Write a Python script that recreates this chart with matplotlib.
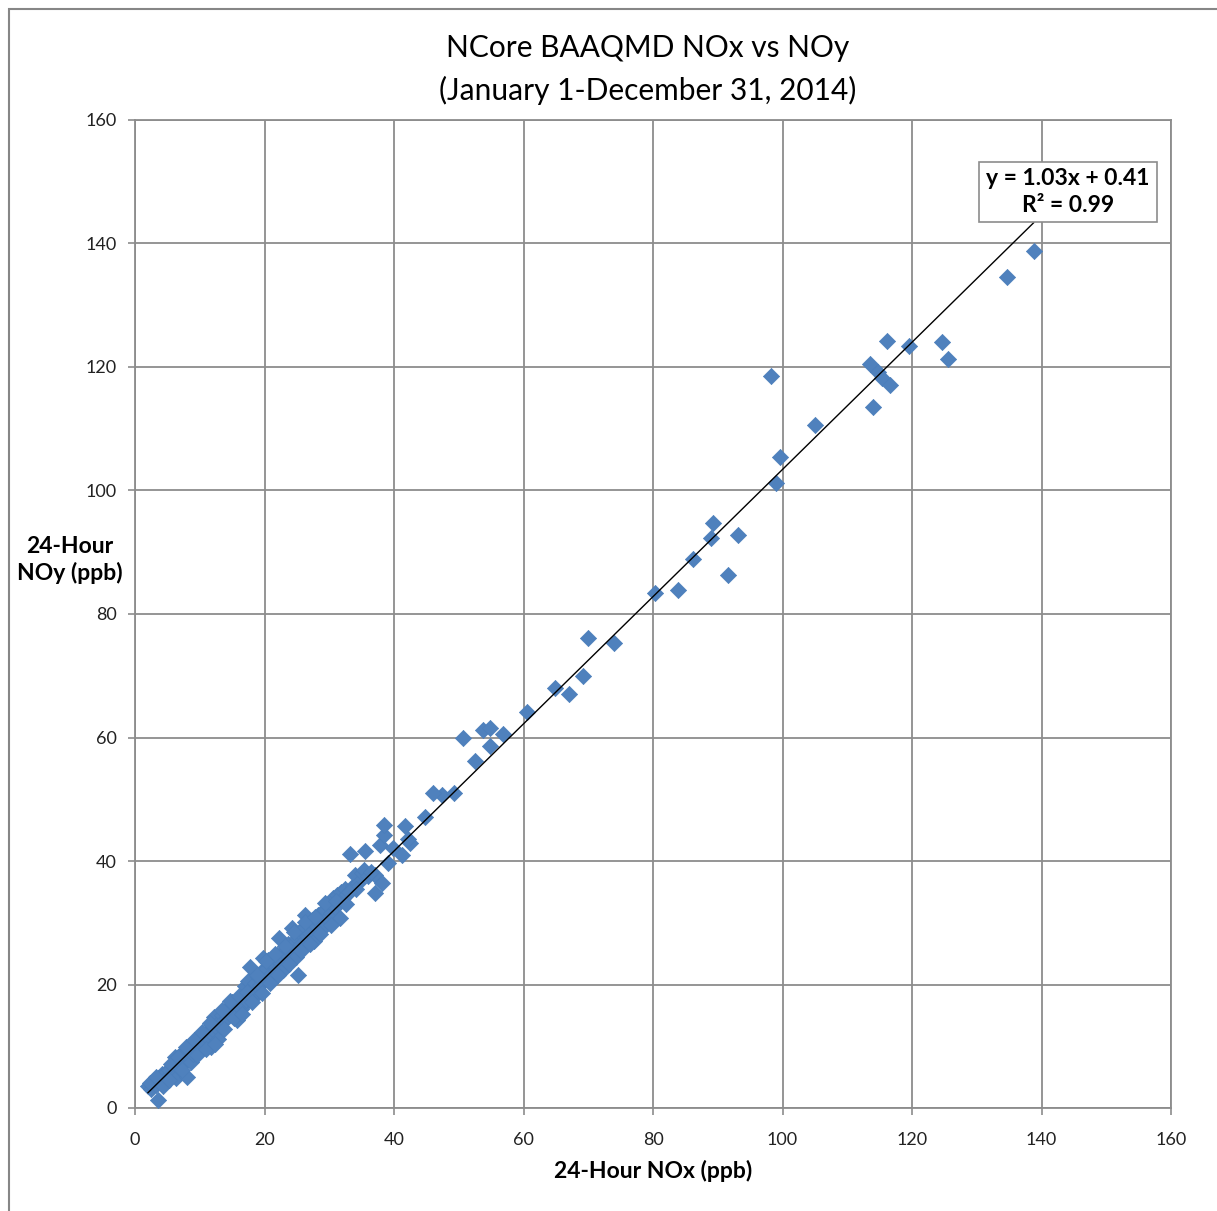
import matplotlib
matplotlib.use("Agg")
import matplotlib.pyplot as plt
from matplotlib.patches import Rectangle
import numpy as np

# 24-hour NOx (ppb)
nox = [
    2.0, 2.5, 2.8, 3.0, 3.3, 3.55, 3.6, 4.0, 4.2, 4.5, 4.8, 5.0, 5.2, 5.5, 5.8,
    6.0, 6.2, 6.4, 6.5, 6.8, 7.0, 7.2, 7.5, 7.7, 8.0, 8.1, 8.3, 8.5, 8.7, 8.9,
    9.0, 9.3, 9.5, 9.8, 10.0, 10.2, 10.5, 10.7, 11.0, 11.2, 11.5, 11.7, 11.9, 12.0,
    12.2, 12.4, 12.6, 12.8, 13.0, 13.2, 13.5, 13.7, 14.0, 14.2, 14.5, 14.7, 15.0,
    15.2, 15.5, 15.8, 16.0, 16.3, 16.5, 16.8, 17.0, 17.2, 17.4, 17.8, 17.8, 18.0,
    18.3, 18.5, 18.8, 19.0, 19.3, 19.5, 19.8, 20.0, 20.3, 20.6, 20.9, 21.2, 21.5,
    21.8, 22.0, 22.3, 22.5, 22.8, 22.9, 23.3, 23.6, 24.0, 24.2, 24.5, 24.8, 25.0,
    25.2, 25.4, 25.7, 26.0, 26.3, 26.5, 26.8, 27.0, 27.3, 27.6, 27.9, 28.2, 28.5,
    28.8, 29.0, 29.4, 29.7, 30.0, 30.3, 30.6, 30.9, 31.2, 31.5, 31.7, 31.8, 32.1,
    32.4, 32.8, 33.2, 33.2, 33.6, 34.0, 34.5, 35.0, 35.3, 35.5, 36.0, 37.1, 37.1,
    37.8, 38.1, 38.4, 38.4, 39.1, 39.9, 41.2, 41.7, 42.5, 42.2, 44.8,
    2.3, 3.2, 4.4, 5.3, 5.6, 6.7, 7.3, 7.9, 9.1, 9.6, 10.4, 10.9, 11.6, 12.3,
    13.4, 13.8, 14.6, 15.3, 16.1, 16.6, 17.3, 18.1, 18.9, 19.6, 20.2, 20.8, 21.6,
    22.1, 23.1, 23.8, 24.6, 25.6, 26.2, 27.1, 27.8, 28.6, 29.3, 30.2, 31.0, 32.6,
    34.2, 36.4, 33.0,
    47.4, 46.0, 49.2, 50.6, 52.5, 53.8, 54.8, 54.8, 56.9, 60.6, 64.8, 67.0, 69.2,
    69.9, 74.0, 80.3, 83.8, 86.2, 89.0, 89.3, 91.6, 93.1, 98.2, 99.0, 99.6,
    105.0, 113.5, 114.0, 114.8, 115.3, 116.1, 116.6, 119.5, 124.6, 125.6,
    134.7, 138.8,
]

# 24-hour NOy (ppb)
noy = [
    3.5, 3.0, 4.2, 4.5, 3.8, 1.3, 4.9, 4.2, 5.5, 4.8, 5.9, 5.0, 6.2, 5.4, 6.8,
    5.7, 8.2, 4.8, 7.2, 6.5, 8.0, 7.0, 9.3, 7.6, 5.1, 9.0, 8.1, 10.2, 7.5, 9.6,
    8.7, 10.8, 9.4, 10.1, 11.2, 10.0, 11.6, 10.6, 12.0, 11.3, 12.5, 9.8, 13.5, 11.8,
    14.8, 12.3, 13.0, 11.2, 14.0, 13.2, 15.0, 14.3, 15.8, 14.5, 16.4, 15.2, 17.2,
    15.8, 16.6, 14.3, 17.0, 16.0, 17.9, 16.6, 19.8, 17.5, 20.5, 22.8, 18.3, 19.4,
    17.8, 20.2, 19.0, 21.2, 20.0, 22.0, 24.3, 21.0, 22.5, 24.0, 21.5, 23.5, 24.5,
    22.2, 24.8, 27.6, 23.5, 25.3, 22.3, 25.0, 26.5, 25.2, 29.2, 26.8, 24.5, 27.5,
    21.5, 28.5, 26.5, 29.0, 31.3, 27.8, 29.6, 28.3, 30.5, 27.0, 29.5, 31.2, 30.0,
    31.6, 29.2, 32.0, 30.8, 33.0, 31.5, 34.0, 32.5, 34.5, 33.2, 30.7, 35.0, 34.0,
    35.4, 34.6, 35.2, 41.1, 36.0, 37.7, 36.5, 38.0, 38.5, 41.6, 37.5, 37.7, 34.8,
    42.6, 36.4, 44.2, 45.8, 39.6, 42.1, 41.0, 45.6, 42.9, 43.5, 47.2,
    4.0, 5.0, 3.6, 4.6, 7.2, 8.3, 6.2, 9.8, 11.0, 8.6, 12.3, 9.6, 13.8, 10.4,
    15.9, 12.8, 17.3, 14.6, 18.2, 15.3, 18.8, 17.1, 21.5, 18.6, 23.8, 20.2, 24.9,
    21.6, 26.2, 23.3, 28.5, 25.4, 30.2, 26.6, 31.0, 28.1, 33.2, 29.6, 33.5, 33.0,
    35.4, 38.2, 35.0,
    50.7, 51.0, 51.0, 60.0, 56.2, 61.2, 61.6, 58.7, 60.6, 64.1, 68.0, 67.0, 70.0,
    76.1, 75.3, 83.4, 83.9, 88.9, 92.3, 94.7, 86.3, 92.8, 118.5, 101.2, 105.4,
    110.6, 120.5, 113.5, 119.2, 118.2, 124.2, 117.1, 123.4, 124.0, 121.3,
    134.6, 138.8,
]

# Excel linear trendline shown on the chart
slope = 1.03
intercept = 0.41
r_squared = 0.99

x_ticks = [0, 20, 40, 60, 80, 100, 120, 140, 160]
y_ticks = [0, 20, 40, 60, 80, 100, 120, 140, 160]

plt.rcParams['font.family'] = ['Lato', 'DejaVu Sans']

W, H = 1217, 1211
fig = plt.figure(figsize=(W / 100, H / 100), dpi=100)
ax = fig.add_axes([135 / W, 1 - 1108 / H, (1171 - 135) / W, (1108 - 120) / H])

grid_col = '#8c8c8c'
ax.set_xlim(0, 160)
ax.set_ylim(0, 160)
ax.set_xticks(x_ticks)
ax.set_yticks(y_ticks)
ax.grid(True, color=grid_col, linewidth=1.3)
ax.set_axisbelow(True)
for sp in ax.spines.values():
    sp.set_color(grid_col)
    sp.set_linewidth(1.3)
ax.tick_params(direction='out', length=5, width=1.2, color=grid_col,
               labelsize=13, pad=8, labelcolor='#222222')
ax.tick_params(axis='x', pad=12)

ax.scatter(nox, noy, marker='D', s=68, color='#4F81BD', edgecolors='#4A7EBB',
           linewidths=0.5, zorder=3)

xl = np.array([min(nox), max(nox)])
ax.plot(xl, slope * xl + intercept, color='black', linewidth=1.0, zorder=4)

fig.text(648 / W, 1 - 48 / H, 'NCore BAAQMD NOx vs NOy', ha='center', va='center',
         fontsize=21.5)
fig.text(648 / W, 1 - 90 / H, '(January 1-December 31, 2014)', ha='center', va='center',
         fontsize=21.5)

fig.text(653 / W, 1 - 1171 / H, '24-Hour NOx (ppb)', ha='center', va='center',
         fontsize=16.5, fontweight='bold')
fig.text(70 / W, 1 - 560 / H, '24-Hour\nNOy (ppb)', ha='center', va='center',
         fontsize=16.5, fontweight='bold', linespacing=1.3)

fig.text(1068 / W, 1 - 192 / H,
         f'y = {slope:.2f}x + {intercept:.2f}\nR² = {r_squared:.2f}',
         ha='center', va='center', fontsize=16.5, fontweight='bold', linespacing=1.3,
         bbox=dict(boxstyle='square,pad=0.3', facecolor='white', edgecolor=grid_col,
                   linewidth=1.2), zorder=5)

# outer chart-area border (only top and left are visible in the picture)
fig.patches.append(Rectangle((8.5 / W, -0.1), 1.2, 1 - 8.5 / H + 0.1,
                             transform=fig.transFigure, fill=False,
                             edgecolor='#868686', linewidth=1.5))

fig.savefig('out.png', dpi=100)
